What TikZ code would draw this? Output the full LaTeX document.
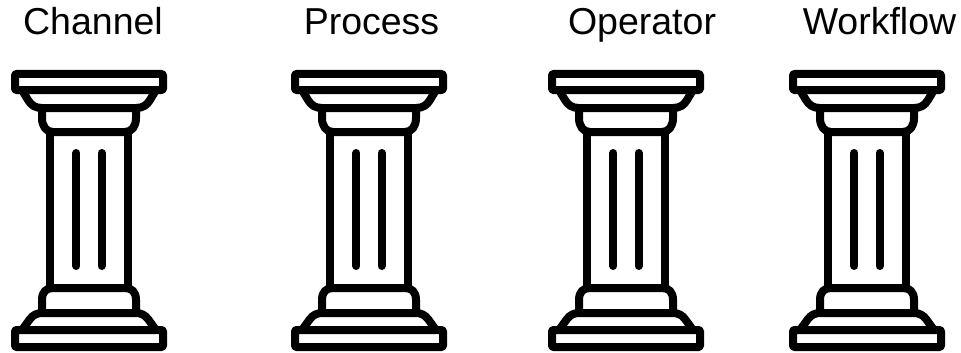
\documentclass[tikz,border=0pt]{standalone}
\usepackage{fontspec}
\setmainfont{Liberation Sans}
\tikzset{
  pillarline/.style={draw=black,line width=8pt,line join=round,line cap=round},
  pillarlabel/.style={anchor=base,font=\fontsize{37.5}{37.5}\selectfont,text=black,inner sep=0pt},
  pillar/.pic={
    % capital
    \draw[pillarline,rounded corners=1pt] (-74,74) rectangle (74,90);
    \draw[pillarline] (-67,90) -- (-61,100) .. controls (-58,105) and (-54,108) .. (-47,108) -- (47,108) .. controls (54,108) and (58,105) .. (61,100) -- (67,90);
    \draw[pillarline] (-47,108) -- (-47,118) .. controls (-47,126) and (-43,132) .. (-36,132) -- (36,132) .. controls (43,132) and (47,126) .. (47,118) -- (47,108);
    % shaft
    \draw[pillarline] (-39,132) -- (-39,287);
    \draw[pillarline] (39,132) -- (39,287);
    \draw[pillarline] (-12.6,153) -- (-12.6,266);
    \draw[pillarline] (12.6,153) -- (12.6,266);
    % base
    \draw[pillarline] (-47,313) -- (-47,300) .. controls (-47,292) and (-43,288) .. (-36,288) -- (36,288) .. controls (43,288) and (47,292) .. (47,300) -- (47,313);
    \draw[pillarline] (-67,330) -- (-59,319) .. controls (-56,315) and (-52,313) .. (-47,313) -- (47,313) .. controls (52,313) and (56,315) .. (59,319) -- (67,330);
    \draw[pillarline,rounded corners=1pt] (-74,330) rectangle (74,347);
  }
}
\begin{document}
\begin{tikzpicture}[x=1pt,y=-1pt]
  \useasboundingbox (0,0) rectangle (961,353);
  \pic at (89,0) {pillar};
  \pic at (369,0) {pillar};
  \pic at (626,0) {pillar};
  \pic at (867,0) {pillar};
  \node[pillarlabel] (channel) at (93,35) {Channel};
  \node[pillarlabel] (process) at (371.5,35) {Process};
  \node[pillarlabel] (operator) at (642,35) {Operator};
  \node[pillarlabel] (workflow) at (879.5,35) {Workflow};
\end{tikzpicture}
\end{document}
